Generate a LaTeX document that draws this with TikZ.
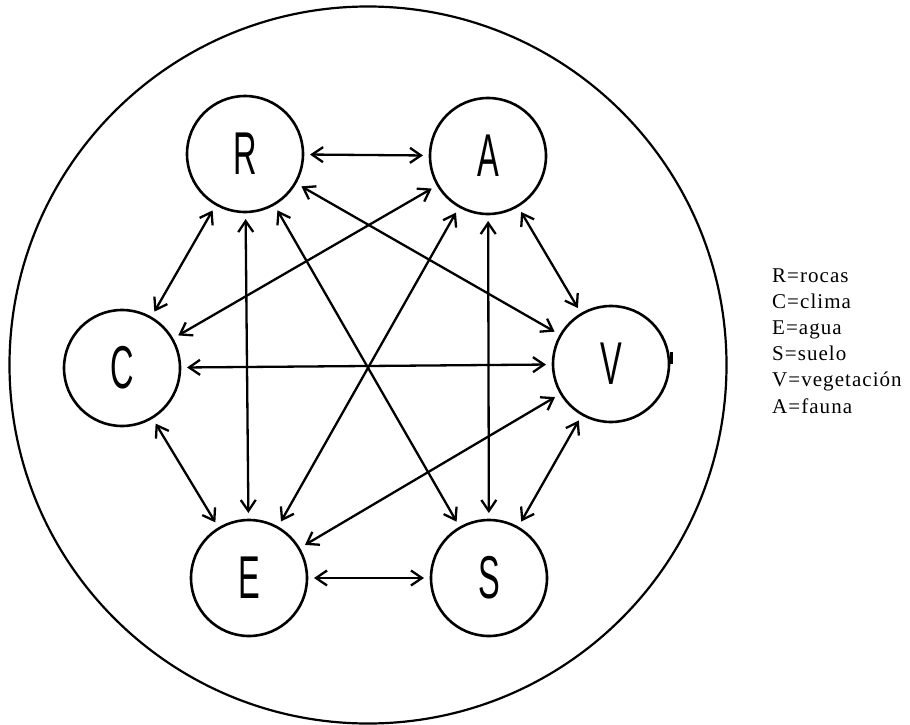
\documentclass[tikz,border=0pt]{standalone}
\usepackage{fontspec}
\setmainfont{Liberation Serif}
\newfontfamily\letterfont{Liberation Sans}
\newfontfamily\legendfont[LetterSpace=5]{Liberation Serif}
\usetikzlibrary{arrows.meta}
\tikzset{
  >={Straight Barb[length=11pt,width=15pt]},
  elem/.style={circle,draw,line width=2.6pt,minimum size=116pt,inner sep=0pt,outer sep=7pt,
    font=\letterfont\fontsize{31}{31}\selectfont},
  link/.style={<->,line width=2.3pt},
  legend/.style={anchor=base west,inner sep=0pt,font=\legendfont\fontsize{21}{26}\selectfont},
}
\newcommand{\tall}[1]{\scalebox{1.05}[1.95]{#1}}
\begin{document}
\begin{tikzpicture}[x=1pt,y=-1pt]
\useasboundingbox (0,0) rectangle (910,725);
\draw[line width=2.2pt] (368,365) circle[radius=358.5];
\node[elem] (R) at (245,154) {\tall{R}};
\node[elem] (A) at (488,156) {\tall{A}};
\node[elem] (C) at (122,368) {\tall{C}};
\node[elem] (V) at (611,364) {\tall{V}};
\node[elem] (E) at (249,578) {\tall{E}};
\node[elem] (S) at (489,578) {\tall{S}};
\draw[line width=3pt] (671.5,352) -- (671.5,364);
\draw[link] (R) -- (A);
\draw[link] (E) -- (S);
\draw[link] (C) -- (V);
\draw[link] (R) -- (C);
\draw[link] (A) -- (V);
\draw[link] (C) -- (E);
\draw[link] (V) -- (S);
\draw[link] (R) -- (E);
\draw[link] (A) -- (S);
\draw[link] (R) -- (S);
\draw[link] (A) -- (E);
\draw[link] (R) -- (V);
\draw[link] (A) -- (C);
\draw[link] (V) -- (E);
\node[legend] (L1) at (772,282) {R=rocas};
\node[legend] (L2) at (772,308.2) {C=clima};
\node[legend] (L3) at (772,334.4) {E=agua};
\node[legend] (L4) at (772,360.6) {S=suelo};
\node[legend] (L5) at (772,386.8) {V=vegetación};
\node[legend] (L6) at (772,413) {A=fauna};
\end{tikzpicture}
\end{document}
